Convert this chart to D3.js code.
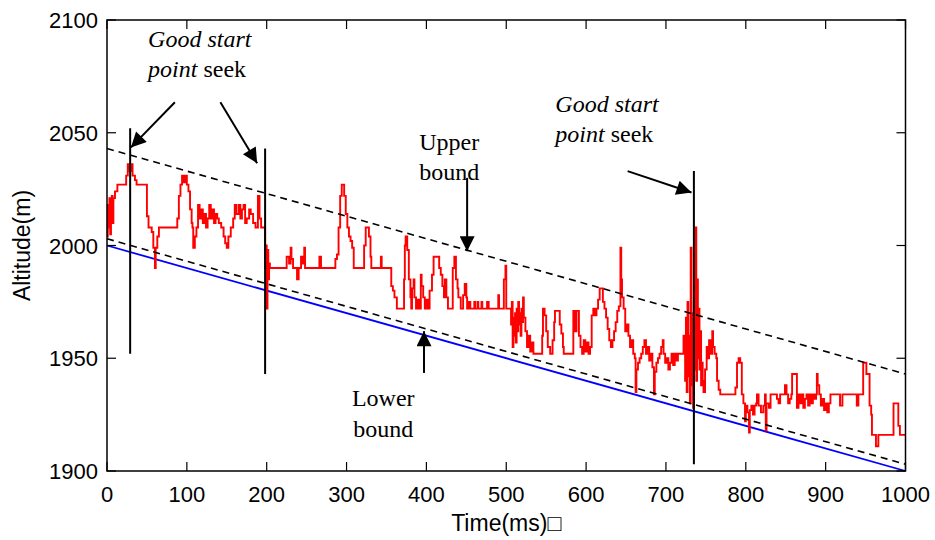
<!DOCTYPE html>
<html>
<head>
<meta charset="utf-8">
<script src="https://cdn.jsdelivr.net/npm/d3@7"></script>
<style>
  body { margin: 0; background: #fff; }
  text { fill: #000; }
</style>
</head>
<body>
<svg id="chart" width="935" height="540"></svg>
<script>
// axis ticks
const xTicks = [0, 100, 200, 300, 400, 500, 600, 700, 800, 900, 1000];
const yTicks = [1900, 1950, 2000, 2050, 2100];

// reference line and bounds [time, altitude]
const referenceLine = [[0, 2000], [1000, 1900]];
const upperBound = [[0, 2043], [1000, 1943]];
const lowerBound = [[0, 2003], [1000, 1903]];

// vertical "start point" markers
const markerTimes = [29, 198, 735];
const markerFrom = [1952, 1943, 1903];
const markerTo = [2052, 2043, 2033];

// annotation arrows [t0, v0, t1, v1]
const arrows = [
  [85, 2063.5, 30, 2043.5],
  [142, 2063.5, 188, 2036.5],
  [652, 2033, 732, 2023.5],
  [451, 2030, 451, 1997.5],
  [397, 1943.5, 397, 1962]
];

// measured altitude [time(ms), altitude(m)]
const altitude = [
  [0,2004],[1,2018],[2,2008],[3,2021],[4,2005],[5,2015],[6,2022],[7,2010],[8,2021],[10,2024],
  [13,2027],[24,2031],[26,2036],[28,2033],[30,2036],[32,2031],[35,2029],[37,2027],[50,2013],[52,2008],
  [56,2006],[58,1999],[60,1990],[61,1999],[63,2004],[65,2008],[88,2012],[90,2022],[92,2027],[94,2031],
  [96,2028],[98,2031],[100,2027],[102,2024],[104,2016],[106,2010],[107,2008],[108,1999],[110,2004],[112,2008],
  [114,2018],[116,2012],[118,2016],[120,2010],[122,2014],[124,2008],[126,2012],[128,2018],[130,2012],[132,2016],
  [134,2010],[136,2014],[138,2012],[140,2010],[143,2008],[146,2004],[148,2001],[150,1999],[152,2004],[155,2008],
  [158,2012],[160,2018],[162,2014],[165,2018],[167,2012],[169,2016],[171,2018],[173,2010],[175,2012],[178,2016],
  [180,2014],[183,2010],[186,2008],[189,2022],[191,2012],[193,2008],[198,1990],[199,2000],[200,1972],[201,1998],
  [202,1985],[203,1992],[204,1990],
  [225,1995],[228,1992],[230,1999],[231,1994],[233,1990],[238,1985],[240,1990],[243,1995],[245,1992],[247,1999],
  [248,1990],[266,1995],[268,1990],[286,1994],[288,1996],[290,2008],[292,2022],[294,2027],[297,2022],[299,2014],
  [301,2008],[303,2004],[305,2002],[307,1999],[309,1990],[322,2000],[324,2008],[328,2004],[330,1995],[331,1990],
  [343,1995],[344,1990],[356,1982],[358,1980],[360,1977],[363,1972],[372,1985],[373,2000],[374,2004],[376,1998],
  [378,1985],[380,1977],[381,1972],[382,1981],[384,1985],[385,1977],[387,1972],[389,1976],[391,1972],[393,1987],
  [394,1982],[396,1977],[398,1972],[400,1976],[402,1972],[404,1980],[407,1987],[409,1995],[416,1990],[418,1987],
  [420,1982],[422,1977],[423,1985],[425,1977],[427,1972],[433,1990],[435,1995],[437,1985],[439,1981],[440,1977],
  [443,1972],[446,1978],[448,1983],[450,1977],[451,1972],[453,1975],[455,1972],[460,1975],[461,1972],[464,1975],
  [465,1972],[469,1975],[470,1972],[476,1975],[478,1972],[490,1978],[491,1972],[497,1985],[499,1991],[500,1972],
  [505,1972],
  [506,1965],[507,1975],[508,1955],[509,1968],[510,1960],[511,1970],[512,1957],[513,1972],[514,1962],[515,1975],
  [516,1965],[517,1970],[518,1960],[519,1972],[520,1966],[521,1977],[522,1968],[524,1962],[526,1955],[528,1960],
  [530,1953],[532,1957],[534,1952],[545,1960],[546,1972],[548,1969],[550,1962],[552,1955],[555,1952],[558,1958],
  [560,1966],[561,1971],[565,1971],[567,1965],[569,1961],[571,1955],[572,1952],[584,1971],[586,1962],[588,1971],
  [591,1960],[593,1955],[595,1952],[597,1958],[599,1953],[601,1957],[603,1952],[605,1955],[607,1969],[609,1972],
  [611,1969],[613,1972],[615,1976],[617,1981],[620,1981],[621,1975],[623,1972],[625,1968],[627,1963],[629,1958],
  [631,1955],[633,1958],[635,1962],[637,1966],[639,1971],[641,1973],[643,1999],[644,1985],[645,1977],[647,1972],
  [649,1962],[651,1965],[653,1960],[655,1955],[657,1958],[659,1952],[661,1950],[662,1935],[663,1945],[665,1948],
  [667,1950],[669,1952],[671,1955],[673,1958],[675,1952],[677,1955],[679,1949],[681,1952],[683,1946],[685,1934],
  [686,1944],[688,1948],[690,1950],[692,1952],[694,1955],[696,1958],[697,1952],[699,1948],[701,1950],[703,1945],
  [705,1948],[707,1952],[709,1947],[711,1952],[713,1949],[715,1952],
  [720,1952],[722,1960],[724,1940],[725,1968],[726,1935],[727,1975],[728,1942],[729,1960],[730,1930],[731,1999],
  [732,1938],[733,1970],[734,1928],[735,1975],[736,1945],[737,2008],[738,1940],[739,1985],[740,1950],[741,1972],
  [742,1945],[743,1962],[744,1938],[745,1948],[746,1940],[747,1935],[749,1945],[751,1955],[752,1950],[754,1958],
  [756,1952],[758,1962],[759,1955],[761,1952],[763,1950],[764,1940],[766,1936],[768,1934],[787,1937],[789,1948],
  [791,1950],[793,1948],[795,1934],[797,1930],[799,1922],[800,1929],[802,1926],[804,1917],[805,1927],[807,1929],
  [809,1925],[811,1929],[813,1930],[814,1934],[816,1929],[819,1926],[822,1929],[824,1934],[825,1918],[826,1930],
  [829,1928],[831,1934],[839,1932],[841,1930],[843,1934],[849,1938],[851,1934],[853,1930],[855,1932],[857,1934],
  [858,1943],[863,1943],[864,1928],[866,1934],[868,1930],[870,1934],[872,1928],[874,1932],[876,1934],[878,1929],
  [880,1934],[882,1930],[884,1934],[886,1932],[888,1934],[889,1943],[890,1938],[892,1934],[894,1929],[896,1932],
  [898,1927],[900,1930],[902,1926],[904,1930],[906,1934],[918,1929],[921,1934],[939,1929],[941,1934],[947,1948],
  [951,1943],[955,1929],[957,1925],[958,1916],[963,1911],[966,1916],[985,1930],[991,1920],[993,1916],[1000,1916]
];

const svg = d3.select("#chart");
const margin = { top: 20, right: 29.5, bottom: 69, left: 107 };
const W = 935, H = 540;

const x = d3.scaleLinear().domain([0, 1000]).range([margin.left, W - margin.right]);
const y = d3.scaleLinear().domain([1900, 2100]).range([H - margin.bottom, margin.top]);

const line = d3.line().x(d => x(d[0])).y(d => y(d[1]));

svg.append("rect").attr("width", W).attr("height", H).attr("fill", "#fff");

// arrow head
svg.append("defs").append("marker")
    .attr("id", "head")
    .attr("viewBox", "0 0 10 10")
    .attr("refX", 10).attr("refY", 5)
    .attr("markerUnits", "userSpaceOnUse")
    .attr("markerWidth", 20).attr("markerHeight", 15)
    .attr("orient", "auto")
    .append("path")
    .attr("d", "M0,0 L10,5 L0,10 Z")
    .attr("fill", "#000");

// blue reference line
svg.append("path").datum(referenceLine)
    .attr("d", line).attr("fill", "none")
    .attr("stroke", "#0000ff").attr("stroke-width", 1.8);

// red altitude trace
svg.append("path").datum(altitude)
    .attr("d", line.curve(d3.curveStepAfter))
    .attr("fill", "none").attr("stroke", "#ff0000").attr("stroke-width", 1.9);
line.curve(d3.curveLinear);

// dashed bounds
[upperBound, lowerBound].forEach(b => {
  svg.append("path").datum(b)
      .attr("d", line).attr("fill", "none")
      .attr("stroke", "#000").attr("stroke-width", 1.6)
      .attr("stroke-dasharray", "7,5");
});

// start markers
svg.selectAll(".marker").data(markerTimes).join("line")
    .attr("class", "marker")
    .attr("x1", d => x(d)).attr("x2", d => x(d))
    .attr("y1", (d, i) => y(markerFrom[i])).attr("y2", (d, i) => y(markerTo[i]))
    .attr("stroke", "#000").attr("stroke-width", 2);

// arrows
svg.selectAll(".arrow").data(arrows).join("line")
    .attr("class", "arrow")
    .attr("x1", d => x(d[0])).attr("y1", d => y(d[1]))
    .attr("x2", d => x(d[2])).attr("y2", d => y(d[3]))
    .attr("stroke", "#000").attr("stroke-width", 2)
    .attr("marker-end", "url(#head)");

// axes box with inward ticks
const x0 = x(0), x1 = x(1000), y0 = y(1900), y1 = y(2100);
svg.append("rect")
    .attr("x", x0).attr("y", y1).attr("width", x1 - x0).attr("height", y0 - y1)
    .attr("fill", "none").attr("stroke", "#000").attr("stroke-width", 1.5);

const tickLen = 9;
const ticks = svg.append("g").attr("stroke", "#000").attr("stroke-width", 1.2);
xTicks.forEach(t => {
  ticks.append("line").attr("x1", x(t)).attr("x2", x(t)).attr("y1", y0).attr("y2", y0 - tickLen);
  ticks.append("line").attr("x1", x(t)).attr("x2", x(t)).attr("y1", y1).attr("y2", y1 + tickLen);
});
yTicks.forEach(v => {
  ticks.append("line").attr("x1", x0).attr("x2", x0 + tickLen).attr("y1", y(v)).attr("y2", y(v));
  ticks.append("line").attr("x1", x1).attr("x2", x1 - tickLen).attr("y1", y(v)).attr("y2", y(v));
});

const sans = "'Liberation Sans', Arial, sans-serif";
const serif = "'Liberation Serif', 'Times New Roman', serif";

svg.append("g").selectAll("text").data(xTicks).join("text")
    .attr("x", d => x(d)).attr("y", y0 + 31)
    .attr("text-anchor", "middle")
    .attr("font-family", sans).attr("font-size", 22)
    .text(d => d);

svg.append("g").selectAll("text").data(yTicks).join("text")
    .attr("x", x0 - 9).attr("y", d => y(d) + 8)
    .attr("text-anchor", "end")
    .attr("font-family", sans).attr("font-size", 22)
    .text(d => d);

svg.append("text")
    .attr("x", (x0 + x1) / 2).attr("y", 531)
    .attr("text-anchor", "middle")
    .attr("font-family", sans).attr("font-size", 23)
    .text("Time(ms)\u25A1");

svg.append("text")
    .attr("transform", `translate(30,${(y0 + y1) / 2}) rotate(-90)`)
    .attr("text-anchor", "middle")
    .attr("font-family", sans).attr("font-size", 23)
    .text("Altitude(m)");

// annotation text
function goodStart(t, v1, v2) {
  const a = svg.append("text").attr("x", x(t)).attr("y", y(v1))
      .attr("font-family", serif).attr("font-size", 24);
  a.append("tspan").attr("font-style", "italic").text("Good start");
  const b = svg.append("text").attr("x", x(t)).attr("y", y(v2))
      .attr("font-family", serif).attr("font-size", 24);
  b.append("tspan").attr("font-style", "italic").text("point");
  b.append("tspan").text(" seek");
}
goodStart(51.5, 2088, 2074.7);
goodStart(561.5, 2059.2, 2045.9);

function twoLines(t, v1, v2, l1, l2) {
  [[v1, l1], [v2, l2]].forEach(([v, s]) => {
    svg.append("text").attr("x", x(t)).attr("y", y(v))
        .attr("text-anchor", "middle")
        .attr("font-family", serif).attr("font-size", 24)
        .text(s);
  });
}
twoLines(428.5, 2042.4, 2029, "Upper", "bound");
twoLines(346, 1928.8, 1915, "Lower", "bound");
</script>
</body>
</html>
